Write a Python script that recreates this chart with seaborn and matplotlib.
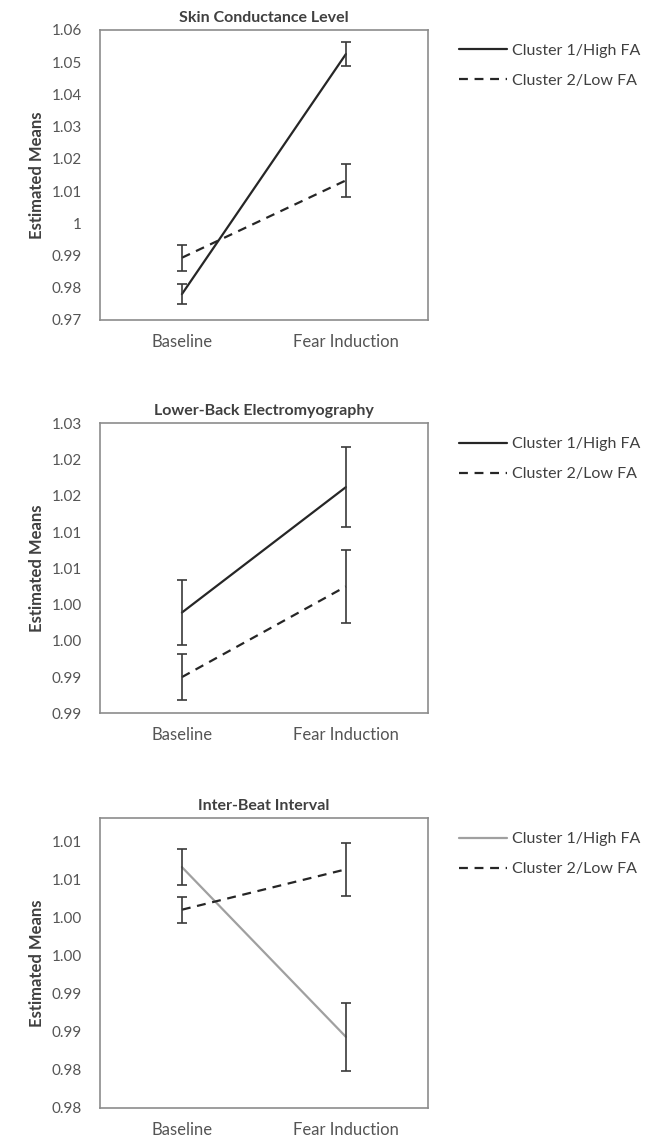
import pandas as pd
import matplotlib.pyplot as plt
import seaborn as sns

sns.set_theme(style="white")
plt.rcParams['font.family'] = ['Lato', 'DejaVu Sans']

conditions = ["Baseline", "Fear Induction"]
clusters = ["Cluster 1/High FA", "Cluster 2/Low FA"]
titles = ["Skin Conductance Level", "Lower-Back Electromyography", "Inter-Beat Interval"]

# estimated means and error bar half-widths per panel, [cluster][condition]
scl_means = [[0.978, 1.0525], [0.9893, 1.0133]]
scl_err = [[0.003, 0.0036], [0.004, 0.005]]
emg_means = [[0.9989, 1.0162], [0.9900, 1.0025]]
emg_err = [[0.0045, 0.0055], [0.0032, 0.005]]
ibi_means = [[1.0066, 0.9843], [1.0010, 1.0063]]
ibi_err = [[0.0024, 0.0045], [0.0017, 0.0035]]

scl_ticks = [0.97, 0.98, 0.99, 1.00, 1.01, 1.02, 1.03, 1.04, 1.05, 1.06]
scl_labels = ["0.97", "0.98", "0.99", "1", "1.01", "1.02", "1.03", "1.04", "1.05", "1.06"]
emg_ticks = [0.985, 0.990, 0.995, 1.000, 1.005, 1.010, 1.015, 1.020, 1.025]
emg_labels = ["0.99", "0.99", "1.00", "1.00", "1.01", "1.01", "1.02", "1.02", "1.03"]
ibi_ticks = [0.975, 0.980, 0.985, 0.990, 0.995, 1.000, 1.005, 1.010]
ibi_labels = ["0.98", "0.98", "0.99", "0.99", "1.00", "1.00", "1.01", "1.01"]

ylims = [(0.97, 1.06), (0.985, 1.025), (0.975, 1.013)]
panels = [
    (scl_means, scl_err, scl_ticks, scl_labels),
    (emg_means, emg_err, emg_ticks, emg_labels),
    (ibi_means, ibi_err, ibi_ticks, ibi_labels),
]
solid_colors = ["#262626", "#262626", "#a0a0a0"]
text_color = "#404040"
tick_color = "#555555"

fig = plt.figure(figsize=(6.66, 11.41), dpi=100)
axes_rects = [
    [0.150, 0.7196, 0.4925, 0.2542],
    [0.150, 0.3748, 0.4925, 0.2542],
    [0.150, 0.0292, 0.4925, 0.2536],
]

for i, (means, errs, ticks, labels) in enumerate(panels):
    ax = fig.add_axes(axes_rects[i])
    rows = []
    for c, cl in enumerate(clusters):
        for k, cond in enumerate(conditions):
            rows.append({"cluster": cl, "condition": cond,
                         "mean": means[c][k], "err": errs[c][k]})
    df = pd.DataFrame(rows)

    palette = {clusters[0]: solid_colors[i], clusters[1]: "#262626"}
    sns.lineplot(data=df, x="condition", y="mean", hue="cluster", style="cluster",
                 palette=palette, dashes={clusters[0]: "", clusters[1]: (4, 3)},
                 linewidth=1.6, ax=ax, legend=True)

    for c, cl in enumerate(clusters):
        sub = df[df["cluster"] == cl]
        ax.errorbar(range(len(sub)), sub["mean"], yerr=sub["err"], fmt="none",
                    ecolor="#3a3a3a", elinewidth=1.2, capsize=3.5, capthick=1.2)

    ax.set_xlim(-0.5, 1.5)
    ax.set_ylim(*ylims[i])
    ax.set_yticks(ticks)
    ax.set_yticklabels(labels)
    ax.set_xlabel("")
    ax.set_ylabel("Estimated Means", fontsize=12, fontweight="bold",
                  color=text_color, labelpad=5)
    ax.set_title(titles[i], fontsize=11.5, fontweight="bold", color=text_color, pad=6)
    ax.tick_params(axis="both", length=0, labelsize=11, colors=tick_color)
    ax.tick_params(axis="x", labelsize=12)
    ax.tick_params(axis="y", pad=13)
    ax.tick_params(axis="x", pad=10)
    for sp in ax.spines.values():
        sp.set_color("#8c8c8c")
        sp.set_linewidth(1.2)

    leg = ax.legend(loc="upper left", bbox_to_anchor=(1.075, 0.975), frameon=False,
                    handlelength=3.0, handletextpad=0.3, labelspacing=1.0,
                    fontsize=11.5, borderaxespad=0)
    for t in leg.get_texts():
        t.set_color(text_color)
    for h in leg.get_lines():
        h.set_linewidth(1.6)

fig.savefig("out.png", dpi=100)
